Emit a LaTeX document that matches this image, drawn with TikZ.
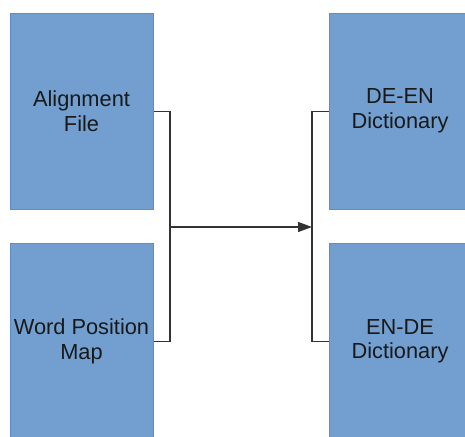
\documentclass[tikz,border=0pt]{standalone}
\usepackage{fontspec}
\setmainfont{Liberation Sans}
\usetikzlibrary{arrows.meta}
\definecolor{boxfill}{HTML}{729FCF}
\definecolor{boxline}{HTML}{5F8CC2}
\definecolor{wire}{HTML}{333333}
\tikzset{
  databox/.style={rectangle, fill=boxfill, draw=boxline, line width=0.8pt,
    minimum width=143pt, minimum height=196pt, inner sep=0pt},
  boxlabel/.style={align=center, inner sep=0pt, text=black!90,
    font=\fontsize{21.8pt}{24.5pt}\selectfont},
  wireline/.style={draw=wire, line width=1.2pt},
}
\begin{document}
\begin{tikzpicture}[x=1pt, y=-1pt]
  \useasboundingbox (0,0) rectangle (465,436);
  \clip (0,0) rectangle (465,436);
  % input stores; the lower one runs past the bottom edge
  \node[databox, anchor=north west] (align) at (10,13) {};
  \node[databox, anchor=north west, minimum height=240pt] (wpm) at (10,243) {};
  % output stores; both run past the right edge
  \node[databox, anchor=north west, minimum width=180pt] (deen) at (329,13) {};
  \node[databox, anchor=north west, minimum width=180pt, minimum height=240pt] (ende) at (329,243) {};
  % labels
  \node[boxlabel] (aligntext) at (81.5,111) {Alignment\\File};
  \node[boxlabel] (wpmtext) at (81.5,341.5) {Word Position\\Map};
  \node[boxlabel] (deentext) at (400,111) {DE-EN\\Dictionary};
  \node[boxlabel] (endetext) at (400,341.5) {EN-DE\\Dictionary};
  % bracket junctions and box attachment points
  \coordinate (jl) at (170,227);
  \coordinate (jr) at (312,227);
  \coordinate (wpmport) at (wpm.east |- wpmtext.center);
  \coordinate (endeport) at (ende.west |- endetext.center);
  % merge the inputs, pass them on, split into the outputs
  \draw[wireline] (align.east) -| (jl) |- (wpmport);
  \draw[wireline, -{Triangle[length=14pt, width=10pt]}] (jl) -- (jr);
  \draw[wireline] (deen.west) -| (jr) |- (endeport);
\end{tikzpicture}
\end{document}
